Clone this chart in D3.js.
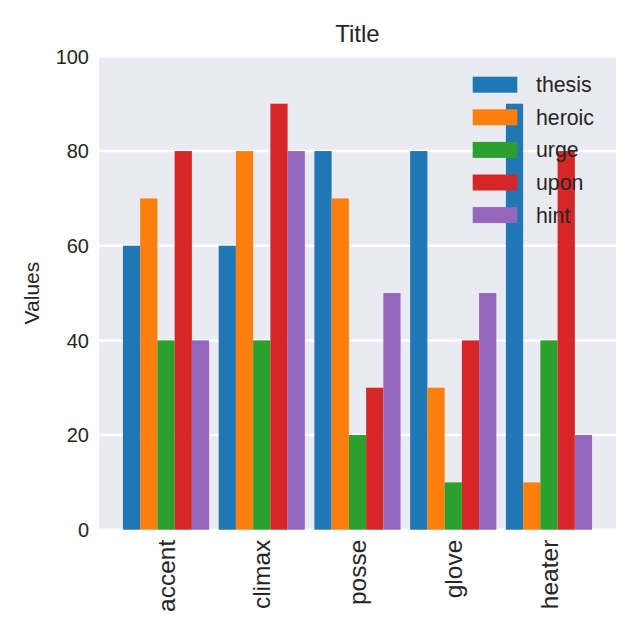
<!DOCTYPE html>
<html>
<head>
<meta charset="utf-8">
<script src="https://cdn.jsdelivr.net/npm/d3@7"></script>
<style>
  html, body { margin: 0; padding: 0; background: #ffffff; }
  svg { display: block; font-family: "Liberation Sans", Arial, sans-serif; }
</style>
</head>
<body>
<svg id="chart" width="640" height="640"></svg>
<script>
const categories = ["accent", "climax", "posse", "glove", "heater"];
const seriesNames = ["thesis", "heroic", "urge", "upon", "hint"];
const thesis = [60, 60, 80, 80, 90];
const heroic = [70, 80, 70, 30, 10];
const urge   = [40, 40, 20, 10, 40];
const upon   = [80, 90, 30, 40, 80];
const hint   = [40, 80, 50, 50, 20];
const yTicks = [0, 20, 40, 60, 80, 100];
const colors = ["#1f77b4", "#ff7f0e", "#2ca02c", "#d62728", "#9467bd"];

const seriesValues = [thesis, heroic, urge, upon, hint];

const svg = d3.select("#chart");
const plotL = 99, plotR = 616, plotT = 56.4, plotB = 529.7;
const textColor = "#262626";

const x = d3.scaleLinear().domain([-0.7, 4.7]).range([plotL, plotR]);
const y = d3.scaleLinear().domain([0, 100]).range([plotB, plotT]);

const groupWidth = 0.9;
const barW = groupWidth / seriesNames.length;

// background
svg.append("rect")
  .attr("x", plotL).attr("y", plotT)
  .attr("width", plotR - plotL).attr("height", plotB - plotT)
  .attr("fill", "#eaeaf2");

// grid
svg.append("g").selectAll("line")
  .data(yTicks)
  .join("line")
  .attr("x1", plotL).attr("x2", plotR)
  .attr("y1", d => y(d)).attr("y2", d => y(d))
  .attr("stroke", "#ffffff").attr("stroke-width", 2.5);

// bars
const bars = svg.append("g");
seriesValues.forEach((vals, si) => {
  bars.append("g").selectAll("rect")
    .data(vals)
    .join("rect")
    .attr("x", (d, ci) => x(ci - groupWidth / 2 + si * barW))
    .attr("width", (d, ci) => x(ci - groupWidth / 2 + (si + 1) * barW) - x(ci - groupWidth / 2 + si * barW))
    .attr("y", d => y(d))
    .attr("height", d => y(0) - y(d))
    .attr("fill", colors[si]);
});

// y tick labels
svg.append("g").selectAll("text")
  .data(yTicks)
  .join("text")
  .attr("x", plotL - 10)
  .attr("y", d => y(d))
  .attr("dy", "0.36em")
  .attr("text-anchor", "end")
  .attr("font-size", 20)
  .attr("fill", textColor)
  .text(d => d);

// x tick labels
svg.append("g").selectAll("text")
  .data(categories)
  .join("text")
  .attr("transform", (d, i) => `translate(${x(i)},${plotB + 10}) rotate(-90)`)
  .attr("text-anchor", "end")
  .attr("dy", "0.35em")
  .attr("font-size", 24.5)
  .attr("fill", textColor)
  .text(d => d);

// y axis label
svg.append("text")
  .attr("transform", `translate(32,${(plotT + plotB) / 2}) rotate(-90)`)
  .attr("text-anchor", "middle")
  .attr("dy", "0.35em")
  .attr("font-size", 21)
  .attr("fill", textColor)
  .text("Values");

// title
svg.append("text")
  .attr("x", (plotL + plotR) / 2)
  .attr("y", 41.5)
  .attr("text-anchor", "middle")
  .attr("font-size", 24)
  .attr("fill", textColor)
  .text("Title");

// legend
const legend = svg.append("g");
seriesNames.forEach((name, i) => {
  const cy = 84.7 + i * 32.6;
  legend.append("rect")
    .attr("x", 472.7).attr("y", cy - 8)
    .attr("width", 44.6).attr("height", 16)
    .attr("fill", colors[i]);
  legend.append("text")
    .attr("x", 536).attr("y", cy)
    .attr("dy", "0.35em")
    .attr("font-size", 21.3)
    .attr("fill", textColor)
    .text(name);
});
</script>
</body>
</html>
